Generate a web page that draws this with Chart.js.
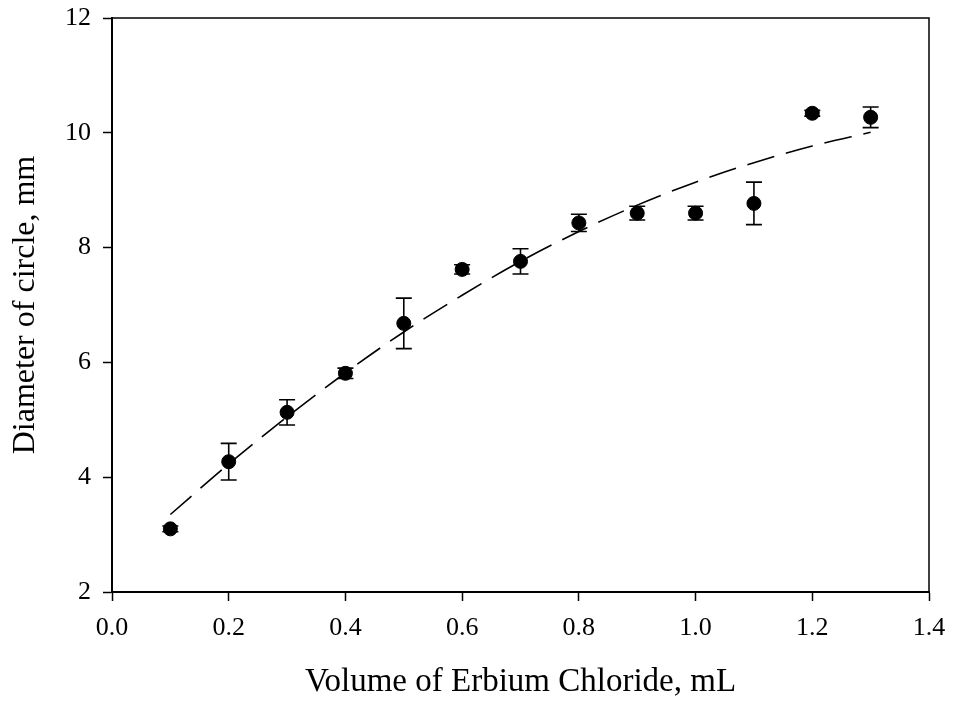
<!DOCTYPE html>
<html>
<head>
<meta charset="utf-8">
<script src="https://cdn.jsdelivr.net/npm/chart.js@4/dist/chart.umd.min.js"></script>
<style>
  html, body { margin: 0; padding: 0; background: #fff; }
  #wrap { width: 953px; height: 702px; }
</style>
</head>
<body>
<div id="wrap"><canvas id="c" width="953" height="702"></canvas></div>
<script>
// Measured circle diameters (mean ± error) for each volume of ErCl3 solution
const volumes   = [0.1, 0.2, 0.3, 0.4, 0.5, 0.6, 0.7, 0.8, 0.9, 1.0, 1.1, 1.2, 1.3];
const diameters = [3.10, 4.27, 5.13, 5.81, 6.68, 7.62, 7.76, 8.43, 8.60, 8.60, 8.77, 10.34, 10.27];
const errors    = [0.05, 0.32, 0.22, 0.09, 0.44, 0.08, 0.22, 0.15, 0.12, 0.12, 0.37, 0.05, 0.18];

// Fitted trend curve (dashed), sampled at the same volumes
const fitVolumes   = [0.1, 0.2, 0.3, 0.4, 0.5, 0.6, 0.7, 0.8, 0.9, 1.0, 1.1, 1.2, 1.3];
const fitDiameters = [3.35, 4.23, 5.05, 5.82, 6.53, 7.17, 7.76, 8.28, 8.74, 9.14, 9.48, 9.77, 10.01];

// Axis ticks
const xTickValues = [0.0, 0.2, 0.4, 0.6, 0.8, 1.0, 1.2, 1.4];
const xTickLabels = ['0.0', '0.2', '0.4', '0.6', '0.8', '1.0', '1.2', '1.4'];
const yTickValues = [2, 4, 6, 8, 10, 12];
const yTickLabels = ['2', '4', '6', '8', '10', '12'];

const FONT = '"Liberation Serif", "Times New Roman", Times, serif';

// Vertical error bars with end caps, drawn through the scales
const errorBars = {
  id: 'errorBars',
  afterDatasetsDraw(chart) {
    const { ctx, scales: { x, y } } = chart;
    ctx.save();
    ctx.strokeStyle = '#000';
    ctx.lineWidth = 1.6;
    const cap = 8;
    volumes.forEach((v, i) => {
      const px = x.getPixelForValue(v);
      const top = y.getPixelForValue(diameters[i] + errors[i]);
      const bot = y.getPixelForValue(diameters[i] - errors[i]);
      ctx.beginPath();
      ctx.moveTo(px, top); ctx.lineTo(px, bot);
      ctx.moveTo(px - cap, top); ctx.lineTo(px + cap, top);
      ctx.moveTo(px - cap, bot); ctx.lineTo(px + cap, bot);
      ctx.stroke();
    });
    ctx.restore();
  }
};

// Closed frame around the plotting area
const frame = {
  id: 'frame',
  afterDraw(chart) {
    const { ctx, chartArea: a } = chart;
    ctx.save();
    ctx.strokeStyle = '#000';
    ctx.lineWidth = 1.5;
    ctx.strokeRect(a.left, a.top, a.right - a.left, a.bottom - a.top);
    ctx.restore();
  }
};

new Chart(document.getElementById('c'), {
  type: 'scatter',
  data: {
    datasets: [
      {
        label: 'fit',
        data: fitVolumes.map((v, i) => ({ x: v, y: fitDiameters[i] })),
        showLine: true,
        borderColor: '#000',
        borderWidth: 1.6,
        borderDash: [28, 12],
        pointRadius: 0,
        cubicInterpolationMode: 'monotone',
        order: 2
      },
      {
        label: 'Diameter',
        data: volumes.map((v, i) => ({ x: v, y: diameters[i] })),
        backgroundColor: '#000',
        borderColor: '#000',
        pointRadius: 7,
        pointHoverRadius: 7,
        order: 1
      }
    ]
  },
  options: {
    responsive: false,
    animation: false,
    layout: { padding: { top: 18, right: 24, left: 0, bottom: 0 } },
    plugins: {
      legend: { display: false },
      tooltip: { enabled: false }
    },
    scales: {
      x: {
        type: 'linear',
        min: 0, max: 1.4,
        afterBuildTicks: s => { s.ticks = xTickValues.map(v => ({ value: v })); },
        afterFit: s => { s.height = 110; s.paddingLeft = 0; s.paddingRight = 0; },
        border: { display: true, color: '#000', width: 2 },
        grid: { display: true, drawOnChartArea: false, drawTicks: true, tickLength: 9, tickColor: '#000', tickWidth: 1.5 },
        ticks: {
          color: '#000',
          padding: 12,
          maxRotation: 0,
          font: { family: FONT, size: 26 },
          callback: (v, i) => xTickLabels[i]
        },
        title: {
          display: true,
          text: 'Volume of Erbium Chloride, mL',
          color: '#000',
          font: { family: FONT, size: 33 },
          padding: { top: 0, bottom: 0 }
        }
      },
      y: {
        type: 'linear',
        min: 2, max: 12,
        afterBuildTicks: s => { s.ticks = yTickValues.map(v => ({ value: v })); },
        afterFit: s => { s.width = 112; s.paddingTop = 0; s.paddingBottom = 0; },
        border: { display: true, color: '#000', width: 2 },
        grid: { display: true, drawOnChartArea: false, drawTicks: true, tickLength: 9, tickColor: '#000', tickWidth: 1.5 },
        ticks: {
          color: '#000',
          padding: 12,
          font: { family: FONT, size: 26 },
          callback: (v, i) => yTickLabels[i]
        },
        title: {
          display: true,
          text: 'Diameter of circle, mm',
          color: '#000',
          font: { family: FONT, size: 32 },
          padding: { top: 6, bottom: 0 }
        }
      }
    }
  },
  plugins: [errorBars, frame]
});
</script>
</body>
</html>
